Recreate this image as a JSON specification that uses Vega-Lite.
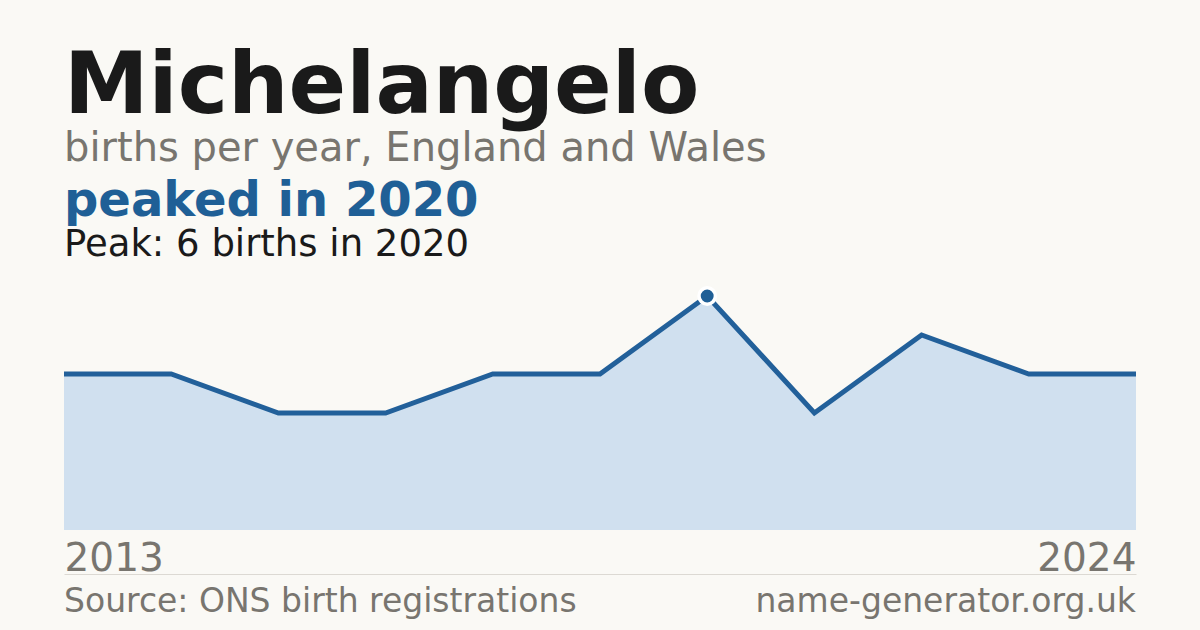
{
  "$schema": "https://vega.github.io/schema/vega-lite/v6.json",
  "background": "#faf9f5",
  "padding": {"left": 54, "right": 54, "top": 44, "bottom": 11},
  "config": {
    "font": "DejaVu Sans",
    "view": {"stroke": null},
    "concat": {"spacing": 0}
  },
  "title": {
    "text": "Michelangelo",
    "subtitle": "births per year, England and Wales",
    "anchor": "start",
    "dx": 10,
    "font": "DejaVu Sans",
    "fontSize": 85,
    "fontWeight": "bold",
    "color": "#1a1a1a",
    "subtitleFont": "DejaVu Sans",
    "subtitleFontSize": 40,
    "subtitleColor": "#78756f",
    "subtitlePadding": -2,
    "offset": 8
  },
  "datasets": {
    "births": [
      {"year": 2013, "births": 4},
      {"year": 2014, "births": 4},
      {"year": 2015, "births": 3},
      {"year": 2016, "births": 3},
      {"year": 2017, "births": 4},
      {"year": 2018, "births": 4},
      {"year": 2020, "births": 6},
      {"year": 2021, "births": 3},
      {"year": 2022, "births": 5},
      {"year": 2023, "births": 4},
      {"year": 2024, "births": 4}
    ],
    "footer": [
      {"label": "Source: ONS birth registrations", "pos": 0},
      {"label": "name-generator.org.uk", "pos": 1}
    ]
  },
  "vconcat": [
    {
      "width": 1072,
      "height": 234,
      "title": {
        "text": "peaked in 2020",
        "subtitle": "Peak: 6 births in 2020",
        "anchor": "start",
        "dx": 10,
        "fontSize": 48,
        "fontWeight": "bold",
        "color": "#1f5f96",
        "subtitleFontSize": 37,
        "subtitleColor": "#1a1a1a",
        "subtitlePadding": 1,
        "offset": 18
      },
      "data": {"name": "births"},
      "encoding": {
        "x": {
          "field": "year",
          "type": "ordinal",
          "scale": {"type": "point", "padding": 0},
          "axis": {
            "values": [2013, 2024],
            "offset": 44,
            "labelFlush": true,
            "labelAngle": 0,
            "labelFontSize": 39,
            "labelColor": "#78756f",
            "labelBaseline": "alphabetic",
            "labelPadding": -4,
            "domain": true,
            "domainColor": "#dcd9d3",
            "domainWidth": 1,
            "ticks": false,
            "grid": false,
            "title": null
          }
        },
        "y": {
          "field": "births",
          "type": "quantitative",
          "scale": {"domain": [0, 6], "nice": false},
          "axis": null
        }
      },
      "layer": [
        {"mark": {"type": "area", "color": "#d0e0ef"}},
        {"mark": {"type": "line", "color": "#22609a", "strokeWidth": 5}},
        {
          "transform": [{"filter": "datum.year == 2020"}],
          "mark": {
            "type": "point",
            "filled": true,
            "size": 270,
            "fill": "#1f5f96",
            "stroke": "#ffffff",
            "strokeWidth": 3.5,
            "opacity": 1
          }
        }
      ]
    },
    {
      "width": 1072,
      "height": 16,
      "data": {"name": "footer"},
      "encoding": {
        "x": {
          "field": "pos",
          "type": "quantitative",
          "scale": {"domain": [0, 1], "nice": false, "zero": false},
          "axis": null
        },
        "text": {"field": "label"}
      },
      "layer": [
        {
          "transform": [{"filter": "datum.pos == 0"}],
          "mark": {"type": "text", "align": "left", "baseline": "top", "fontSize": 33, "color": "#78756f"}
        },
        {
          "transform": [{"filter": "datum.pos == 1"}],
          "mark": {"type": "text", "align": "right", "baseline": "top", "fontSize": 33, "color": "#78756f"}
        }
      ]
    }
  ]
}
